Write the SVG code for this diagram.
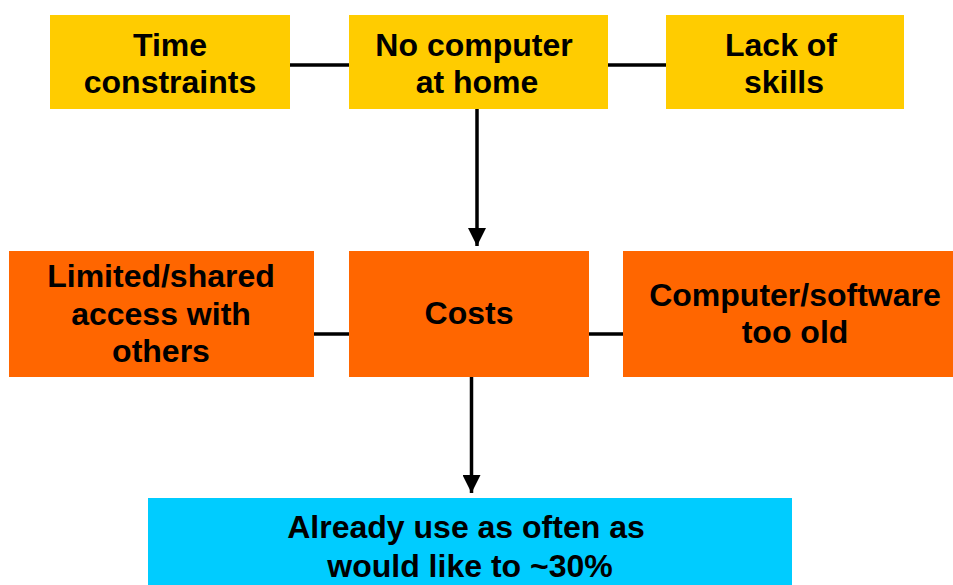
<svg xmlns="http://www.w3.org/2000/svg" width="953" height="585" viewBox="0 0 953 585">
<defs>
<marker id="arr" markerUnits="userSpaceOnUse" markerWidth="18" markerHeight="18" viewBox="0 0 18 18" refX="18" refY="9" orient="auto">
<path d="M0,0 L18,9 L0,18 Z" fill="#000"/>
</marker>
<style>
.t{font-family:"Liberation Sans",Arial,sans-serif;font-weight:bold;font-size:32px;fill:#000;text-anchor:middle}
.y{fill:#FFCC00}
.o{fill:#FF6600}
.b{fill:#00CCFF}
.c{stroke:#000;stroke-width:3.5;fill:none}
</style>
</defs>
<rect width="953" height="585" fill="#fff"/>
<g id="connectors">
<line class="c" x1="290" y1="65" x2="349" y2="65"/>
<line class="c" x1="608" y1="65" x2="666" y2="65"/>
<line class="c" x1="314" y1="334" x2="349" y2="334"/>
<line class="c" x1="589" y1="334" x2="623" y2="334"/>
<line class="c" x1="477" y1="109" x2="477" y2="246" marker-end="url(#arr)"/>
<line class="c" x1="471.5" y1="377" x2="471.5" y2="493" marker-end="url(#arr)"/>
</g>
<g id="time">
<rect class="y" x="50" y="15" width="240" height="94"/>
<text class="t" x="170" y="56">Time</text>
<text class="t" x="170" y="93">constraints</text>
</g>
<g id="nocomputer">
<rect class="y" x="349" y="15" width="259" height="94"/>
<text class="t" x="474" y="56">No computer</text>
<text class="t" x="477" y="93">at home</text>
</g>
<g id="skills">
<rect class="y" x="666" y="15" width="238" height="94"/>
<text class="t" x="781" y="56">Lack of</text>
<text class="t" x="784" y="93">skills</text>
</g>
<g id="limited">
<rect class="o" x="9" y="251" width="305" height="126"/>
<text class="t" x="161" y="287">Limited/shared</text>
<text class="t" x="161" y="325">access with</text>
<text class="t" x="161" y="362">others</text>
</g>
<g id="costs">
<rect class="o" x="349" y="251" width="240" height="126"/>
<text class="t" x="469" y="324">Costs</text>
</g>
<g id="old">
<rect class="o" x="623" y="251" width="330" height="126"/>
<text class="t" x="795" y="306">Computer/software</text>
<text class="t" x="795" y="343">too old</text>
</g>
<g id="already">
<rect class="b" x="148" y="498" width="644" height="87"/>
<text class="t" x="466" y="538">Already use as often as</text>
<text class="t" x="470" y="577">would like to ~30%</text>
</g>
</svg>
